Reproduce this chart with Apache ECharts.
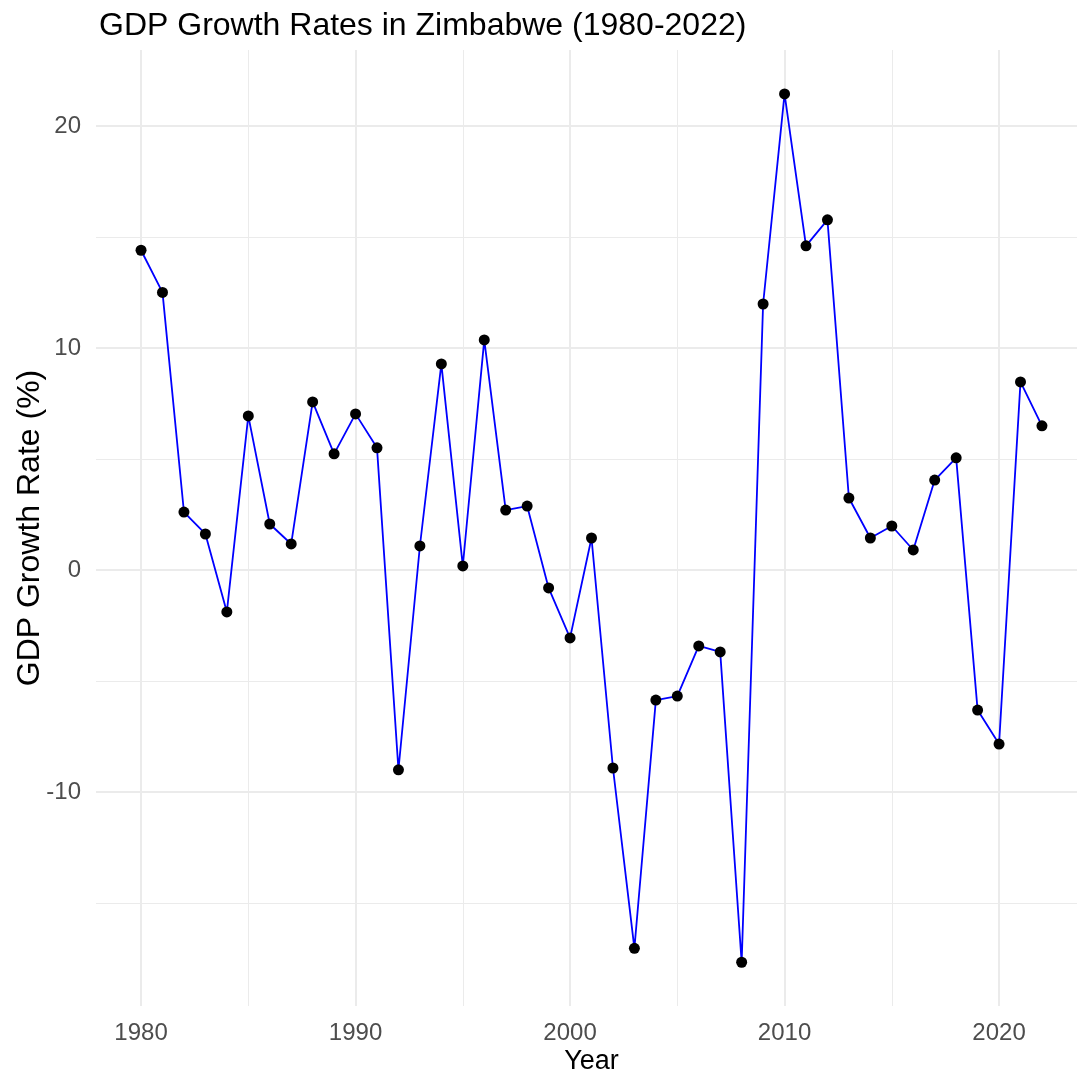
<!DOCTYPE html>
<html>
<head>
    <meta charset="utf-8"/>
    <title>GDP Growth Rates in Zimbabwe</title>
    <script src="https://cdn.jsdelivr.net/npm/echarts@6/dist/echarts.min.js"></script>
    <style>
        html, body { margin: 0; padding: 0; background: #fff; }
    </style>
</head>
<body>
<div id="main" style="width: 1077px; height: 1080px"></div>
<script type="text/javascript">
    // 数据
    var years = [1980, 1981, 1982, 1983, 1984, 1985, 1986, 1987, 1988, 1989,
        1990, 1991, 1992, 1993, 1994, 1995, 1996, 1997, 1998, 1999,
        2000, 2001, 2002, 2003, 2004, 2005, 2006, 2007, 2008, 2009,
        2010, 2011, 2012, 2013, 2014, 2015, 2016, 2017, 2018, 2019,
        2020, 2021, 2022];
    var growth = [14.4, 12.5, 2.61, 1.62, -1.89, 6.94, 2.07, 1.17, 7.57, 5.23,
        7.03, 5.5, -9.0, 1.08, 9.28, 0.18, 10.36, 2.7, 2.88, -0.81,
        -3.06, 1.44, -8.92, -17.04, -5.86, -5.68, -3.42, -3.69, -17.67, 11.98,
        21.44, 14.6, 15.77, 3.24, 1.44, 1.98, 0.9, 4.05, 5.05, -6.31,
        -7.84, 8.47, 6.49];
    var xMajor = [1980, 1990, 2000, 2010, 2020];
    var xMinor = [1985, 1995, 2005, 2015];
    var yMajor = [-10, 0, 10, 20];
    var yMinor = [-15, -5, 5, 15];

    var font = 'Liberation Sans, Arial, sans-serif';
    var points = years.map(function (y, i) { return [y, growth[i]]; });
    var plain = function (v) { return String(v); };

    var xMin = 1977.9, xMax = 2024.1;
    var yMin = -19.64, yMax = 23.42;

    var myChart = echarts.init(document.getElementById("main"));

    var option = {
        backgroundColor: '#fff',
        animation: false,
        title: {
            text: 'GDP Growth Rates in Zimbabwe (1980-2022)',
            left: 94,
            top: 5,
            textStyle: {fontFamily: font, fontSize: 32, fontWeight: 'normal', color: '#000'}
        },
        grid: {left: 96, top: 50, width: 991, height: 956, outerBoundsMode: 'none', containLabel: false},
        xAxis: [{
            type: 'value', min: xMin, max: xMax, position: 'bottom',
            name: 'Year', nameLocation: 'middle', nameGap: 42, nameMoveOverlap: false,
            nameTextStyle: {fontFamily: font, fontSize: 27, color: '#000'},
            axisLine: {show: false},
            axisTick: {show: false, customValues: xMajor},
            axisLabel: {customValues: xMajor, formatter: plain, fontFamily: font, fontSize: 24, color: '#4d4d4d', margin: 15},
            splitLine: {show: true, lineStyle: {color: '#ebebeb', width: 2}}
        }, {
            type: 'value', min: xMin, max: xMax, position: 'top',
            axisLine: {show: false},
            axisTick: {show: false, customValues: xMinor},
            axisLabel: {show: false, customValues: xMinor},
            splitLine: {show: true, lineStyle: {color: '#ebebeb', width: 1}}
        }],
        yAxis: [{
            type: 'value', min: yMin, max: yMax, position: 'left',
            name: 'GDP Growth Rate (%)', nameLocation: 'middle', nameGap: 50, nameMoveOverlap: false,
            nameTextStyle: {fontFamily: font, fontSize: 32, color: '#000'},
            axisLine: {show: false},
            axisTick: {show: false, customValues: yMajor},
            axisLabel: {customValues: yMajor, formatter: plain, fontFamily: font, fontSize: 24, color: '#4d4d4d', margin: 15},
            splitLine: {show: true, lineStyle: {color: '#ebebeb', width: 2}}
        }, {
            type: 'value', min: yMin, max: yMax, position: 'right',
            axisLine: {show: false},
            axisTick: {show: false, customValues: yMinor},
            axisLabel: {show: false, customValues: yMinor},
            splitLine: {show: true, lineStyle: {color: '#ebebeb', width: 1}}
        }],
        series: [{
            type: 'line',
            data: points,
            xAxisIndex: 0, yAxisIndex: 0,
            symbol: 'circle',
            symbolSize: 11,
            itemStyle: {color: '#000'},
            lineStyle: {color: '#0000ff', width: 1.8},
            z: 3
        }]
    };

    myChart.setOption(option);
</script>
</body>
</html>
